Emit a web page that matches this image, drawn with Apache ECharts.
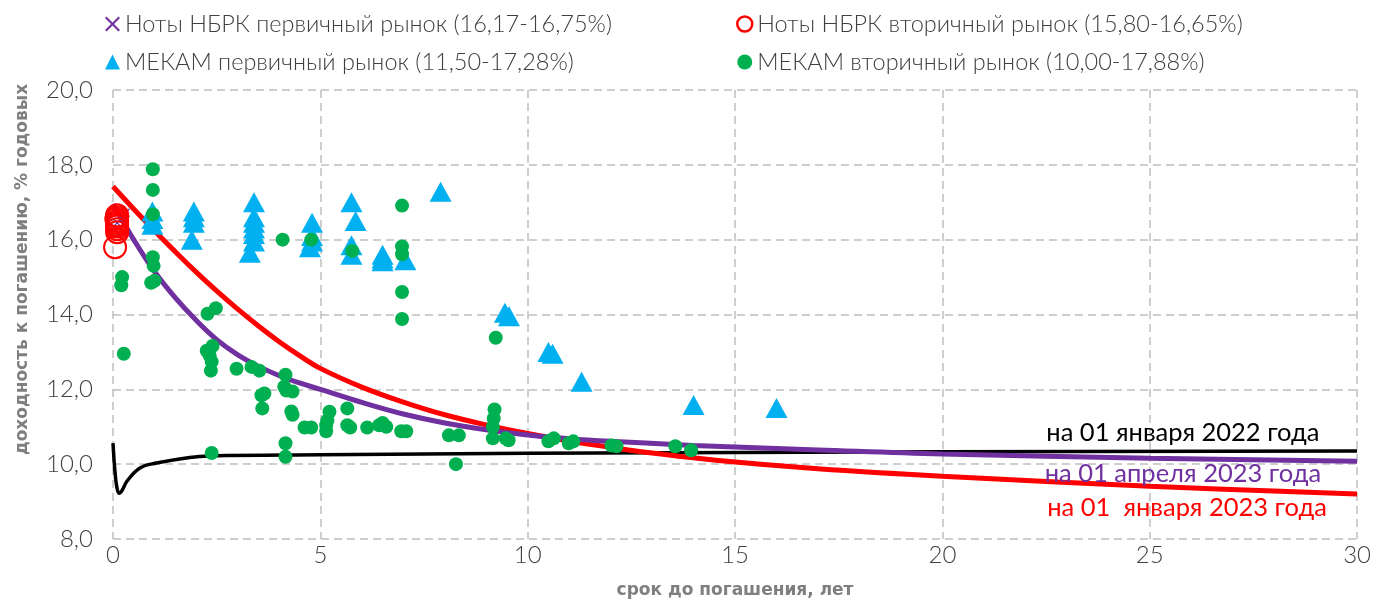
<!DOCTYPE html>
<html>
<head>
<meta charset="utf-8">
<script src="https://cdn.jsdelivr.net/npm/echarts@6/dist/echarts.min.js"></script>
<style>
html,body{margin:0;padding:0;background:#fff;}
#chart{width:1374px;height:604px;}
</style>
</head>
<body>
<div id="chart"></div>
<script>
// ---- Series names ----
const nameNotesPrimary = 'Ноты НБРК первичный рынок (16,17-16,75%)';
const nameNotesSecondary = 'Ноты НБРК вторичный рынок (15,80-16,65%)';
const nameMekamPrimary = 'МЕКАМ первичный рынок (11,50-17,28%)';
const nameMekamSecondary = 'МЕКАМ вторичный рынок (10,00-17,88%)';

const labelJan2022 = 'на 01 января 2022 года';
const labelApr2023 = 'на 01 апреля 2023 года';
const labelJan2023 = 'на 01  января 2023 года';

const xTicks = [0, 5, 10, 15, 20, 25, 30];
const yTicks = [8, 10, 12, 14, 16, 18, 20];

// ---- Yield curves [term, yield] ----
const curveJan2022 = [[0,10.56],[0.04,9.9],[0.09,9.4],[0.15,9.22],[0.22,9.3],[0.34,9.55],[0.65,9.9],[1.05,10.03],[1.85,10.18],[2.33,10.22],[5,10.25],[10,10.29],[20,10.33],[30,10.35]];
const curveApr2023 = [[0,16.95],[0.5,16.0],[1,15.15],[1.5,14.45],[2,13.85],[2.5,13.33],[3,12.93],[3.5,12.62],[4,12.37],[4.5,12.17],[5,12.0],[6,11.65],[7,11.34],[8,11.1],[9,10.92],[10,10.78],[11,10.68],[12,10.61],[14,10.5],[17,10.38],[20,10.27],[25,10.16],[30,10.08]];
const curveJan2023 = [[0,17.42],[0.5,16.82],[1,16.24],[1.5,15.68],[2,15.14],[2.5,14.63],[3,14.15],[3.5,13.7],[4,13.28],[4.5,12.9],[5,12.56],[6,12.06],[7,11.66],[8,11.32],[9,11.05],[10,10.82],[11,10.62],[12,10.45],[13,10.3],[14.6,10.1],[17,9.88],[20,9.68],[25,9.41],[30,9.2]];

// ---- Scatter points [term, yield] ----
const notesPrimary = [[0.04,16.75],[0.3,16.72],[0.1,16.45],[0.12,16.17]];
const notesSecondary = [[0.1,16.65],[0.1,16.6],[0.08,16.55],[0.1,16.5],[0.1,16.45],[0.1,16.4],[0.1,16.35],[0.1,16.28],[0.1,16.2],[0.05,15.8]];
const mekamPrimary = [
  [0.95,16.75],[0.95,16.55],[0.95,16.4],
  [1.95,16.75],[1.95,16.6],[1.95,16.45],[1.9,16.0],
  [3.4,17.0],[3.4,16.6],[3.4,16.45],[3.4,16.3],[3.4,16.15],[3.4,15.95],[3.3,15.65],
  [4.8,16.45],[4.8,16.1],[4.8,15.95],[4.75,15.8],
  [5.75,17.0],[5.85,16.5],[5.75,15.85],[5.75,15.6],
  [6.5,15.6],[6.5,15.5],[6.5,15.42],
  [7.05,15.45],
  [7.9,17.28],
  [9.45,14.05],[9.55,13.95],
  [10.5,13.0],[10.6,12.95],
  [11.3,12.2],
  [14.0,11.58],
  [16.0,11.5]
];
const mekamSecondary = [
  [0.96,17.88],[0.96,17.33],[0.96,16.68],[0.96,15.53],[0.98,15.3],[0.92,14.85],[1.0,14.9],
  [0.22,15.0],[0.2,14.78],[0.26,12.95],
  [2.28,14.02],[2.48,14.17],
  [2.26,13.03],[2.4,13.16],[2.33,12.9],[2.38,12.74],[2.36,12.5],
  [2.38,10.3],
  [2.98,12.55],[3.34,12.6],[3.53,12.5],
  [4.16,12.39],[4.13,12.07],[4.18,11.97],[4.33,11.94],
  [3.58,11.84],[3.65,11.89],[3.6,11.49],
  [4.3,11.41],[4.33,11.32],
  [4.16,10.56],[4.16,10.2],
  [4.09,16.0],[4.78,16.0],[5.77,15.7],
  [6.97,16.91],[6.97,15.82],[6.97,15.61],[6.97,14.6],[6.97,13.88],
  [4.62,10.98],[4.78,10.98],[5.14,11.04],[5.14,10.88],[5.22,11.4],[5.17,11.17],
  [5.65,11.49],[5.65,11.04],[5.72,10.98],
  [6.13,10.98],[6.42,11.04],[6.5,11.1],[6.59,11.0],
  [6.95,10.88],[7.07,10.88],
  [8.1,10.77],[8.34,10.77],[8.27,10.0],
  [9.23,13.38],[9.2,11.46],[9.18,11.22],[9.16,11.0],[9.16,10.69],[9.47,10.69],[9.54,10.64],
  [10.5,10.61],[10.63,10.69],[10.99,10.56],[11.1,10.61],
  [12.02,10.5],[12.14,10.48],[13.56,10.48],[13.94,10.37]
];

// annotation anchor positions in data units
const labelPosJan2022 = [25.8, 10.85];
const labelPosApr2023 = [25.8, 9.73];
const labelPosJan2023 = [25.9, 8.83];

const crossPath = 'path://M0,1L1,0L5,4L9,0L10,1L6,5L10,9L9,10L5,6L1,10L0,9L4,5Z';
const FONT = 'Lato';

const chart = echarts.init(document.getElementById('chart'), null, {renderer:'canvas'});

function annot(pos, text, color){
  return {
    symbol:'circle', symbolSize:0, silent:true,
    data:[{coord:pos, label:{show:true, position:'inside', formatter:text, color:color, fontSize:25.5, fontFamily:FONT}}]
  };
}

const legendText = {fontFamily:FONT, fontWeight:300, fontSize:23.5, color:'#404040'};

const option = {
  backgroundColor:'#fff',
  animation:false,
  grid:{left:113, right:12, top:90, bottom:63, containLabel:false},
  legend:[
    {
      left:100, top:7, orient:'vertical', itemGap:14, itemWidth:15, itemHeight:15,
      textStyle:legendText,
      data:[
        {name:nameNotesPrimary, icon:crossPath, itemStyle:{color:'#7030A0'}},
        {name:nameMekamPrimary, icon:'triangle', itemStyle:{color:'#00B0F0'}}
      ]
    },
    {
      left:731, top:7, orient:'vertical', itemGap:14, itemWidth:15, itemHeight:15,
      textStyle:legendText,
      data:[
        {name:nameNotesSecondary, icon:'circle', itemStyle:{color:'rgba(255,255,255,0)', borderColor:'#FF0000', borderWidth:2.5}},
        {name:nameMekamSecondary, icon:'circle', itemStyle:{color:'#00B050'}}
      ]
    }
  ],
  xAxis:{
    type:'value', min:0, max:30, interval:5,
    name:'срок до погашения, лет', nameLocation:'middle', nameGap:43,
    nameTextStyle:{fontFamily:'DejaVu Sans', fontWeight:'bold', fontSize:17, color:'#7F7F7F'},
    axisLine:{show:false}, axisTick:{show:false},
    axisLabel:{margin:4, fontFamily:FONT, fontWeight:300, fontSize:24, color:'#404040',
      formatter:function(v){ return xTicks.indexOf(v)>=0 ? String(v) : ''; }},
    splitLine:{show:true, lineStyle:{type:[8,5], color:'#BFBFBF', width:1.5}}
  },
  yAxis:{
    type:'value', min:8, max:20, interval:2,
    name:'доходность к погашению, % годовых', nameLocation:'middle', nameGap:82, nameRotate:90,
    nameTextStyle:{fontFamily:'DejaVu Sans', fontWeight:'bold', fontSize:17, color:'#7F7F7F', padding:[0,0,0,90]},
    axisLine:{show:false}, axisTick:{show:false},
    axisLabel:{margin:20, fontFamily:FONT, fontWeight:300, fontSize:24, color:'#404040',
      formatter:function(v){ return yTicks.indexOf(v)>=0 ? v.toFixed(1).replace('.', ',') : ''; }},
    splitLine:{show:true, lineStyle:{type:[8,5], color:'#BFBFBF', width:1.5}}
  },
  series:[
    {
      name:'curve2022', type:'line', data:curveJan2022, smooth:0.4, showSymbol:false, z:2,
      lineStyle:{color:'#000', width:3.5}, markPoint:annot(labelPosJan2022, labelJan2022, '#000')
    },
    {
      name:'curve2023jan', type:'line', data:curveJan2023, smooth:0.4, showSymbol:false, z:2,
      lineStyle:{color:'#FF0000', width:5}, markPoint:annot(labelPosJan2023, labelJan2023, '#FF0000')
    },
    {
      name:'curve2023apr', type:'line', data:curveApr2023, smooth:0.4, showSymbol:false, z:2,
      lineStyle:{color:'#7030A0', width:5}, markPoint:annot(labelPosApr2023, labelApr2023, '#7030A0')
    },
    {
      name:nameMekamPrimary, type:'scatter', data:mekamPrimary, symbol:'triangle', symbolSize:[22,20], z:3,
      itemStyle:{color:'#00B0F0', opacity:1}
    },
    {
      name:nameMekamSecondary, type:'scatter', data:mekamSecondary, symbol:'circle', symbolSize:14, z:4,
      itemStyle:{color:'#00B050', opacity:1}
    },
    {
      name:nameNotesPrimary, type:'scatter', data:notesPrimary, symbol:crossPath, symbolSize:9, z:4,
      itemStyle:{color:'#7030A0', opacity:1}
    },
    {
      name:nameNotesSecondary, type:'scatter', data:notesSecondary, symbol:'circle', symbolSize:22, z:5,
      itemStyle:{color:'rgba(255,255,255,0)', borderColor:'#FF0000', borderWidth:2, opacity:1}
    }
  ]
};
chart.setOption(option);
</script>
</body>
</html>
